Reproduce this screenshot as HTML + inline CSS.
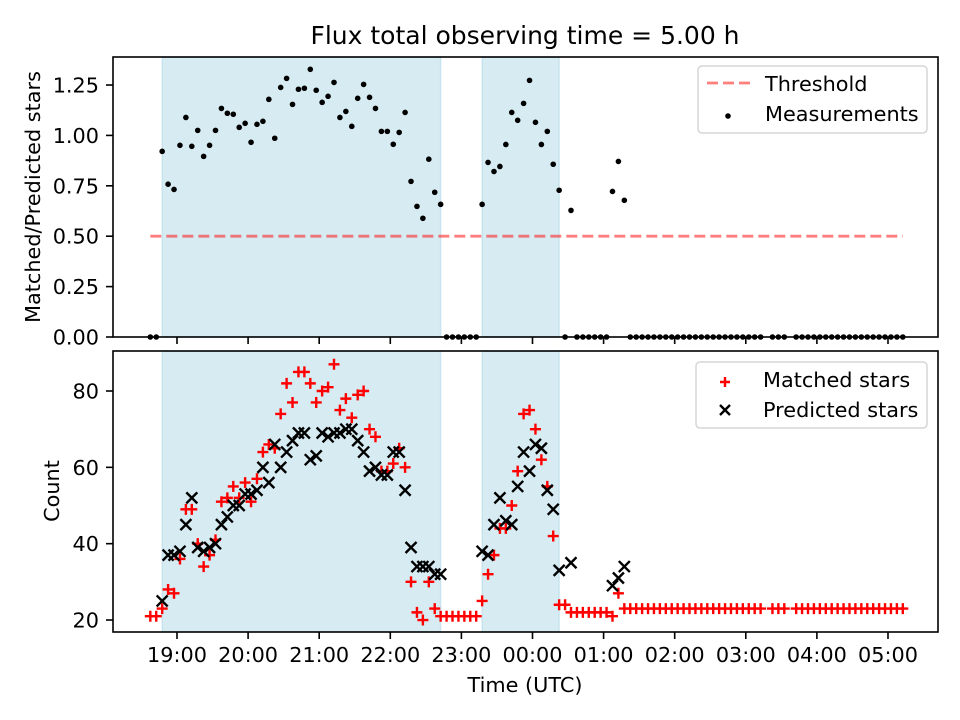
<!DOCTYPE html>
<html><head><meta charset="utf-8"><style>
html,body{margin:0;padding:0;background:#fff;}
svg{display:block;font-family:"DejaVu Sans","Liberation Sans",sans-serif;}
</style></head><body>
<svg id="fig" width="960" height="720" viewBox="0 0 960 720"></svg>
<script>
// ---- data ----
const startMinutes = -22.5; // minutes relative to 19:00 of first sample (18:37:30)
const intervalMinutes = 5;
const ratio = [0,0,
0.921,0.758,0.732,0.951,1.089,0.946,1.025,0.896,0.951,1.025,1.134,1.110,1.105,1.040,1.060,0.966,1.055,1.070,1.179,0.986,1.238,1.283,1.154,1.229,1.234,1.328,1.224,1.164,1.194,1.263,1.089,1.119,1.045,1.184,1.253,1.189,1.134,1.020,1.020,0.956,1.015,1.114,0.772,0.648,0.589,0.882,0.718,0.658,
0,0,0,0,0,0,
0.658,0.866,0.821,0.846,0.955,1.114,1.075,1.159,1.273,1.065,0.955,1.020,0.857,0.728,
0,0.628,0,0,0,0,0,0,0.722,0.871,0.678,
0,0,0,0,0,0,0,0,0,0,0,0,0,0,0,0,0,0,0,0,0,0,0,null,0,0,0,null,0,0,0,0,0,0,0,0,0,0,0,0,0,0,0,0,0,0,0];
const matched = [21,21,
23,28,27,36,49,49,40,34,37,41,51,52,55,52,56,51,57,64,66,65,74,82,77,85,85,82,77,80,81,87,75,78,73,79,80,70,68,59,59,61,65,60,30,22,20,30,23,21,
21,21,21,21,21,21,
25,32,37,44,44,50,59,74,75,70,62,55,42,24,
24,22,22,22,22,22,22,22,21,27,23,
23,23,23,23,23,23,23,23,23,23,23,23,23,23,23,23,23,23,23,23,23,23,23,null,23,23,23,null,23,23,23,23,23,23,23,23,23,23,23,23,23,23,23,23,23,23,23];
const predicted = [null,null,
25,37,37,38,45,52,39,38,39,40,45,47,50,50,53,53,54,60,56,66,60,64,67,69,69,62,63,69,68,69,69,70,70,67,64,59,60,58,58,64,64,54,39,34,34,34,32,32,
null,null,null,null,null,null,
38,37,45,52,46,45,55,64,59,66,65,54,49,33,
null,35,null,null,null,null,null,null,29,31,34];
const shadedStart = [-12.5, 257.5];
const shadedEnd = [222.5, 322.5];
const thresholdValue = 0.5;
const xTickMinutes = [0,60,120,180,240,300,360,420,480,540,600];
const xTickLabels = ["19:00","20:00","21:00","22:00","23:00","00:00","01:00","02:00","03:00","04:00","05:00"];
const topTicks = [0,0.25,0.5,0.75,1.0,1.25];
const topTickLabels = ["0.00","0.25","0.50","0.75","1.00","1.25"];
const botTicks = [20,40,60,80];
const botTickLabels = ["20","40","60","80"];

// ---- layout ----
const L=113,R=938, T1=57,B1=337, T2=351,B2=632;
const xMin=-54, xMax=642.2;
const yTopMin=0, yTopMax=1.389;
const yBotMin=16.86, yBotMax=90.48;
const X = m => L + (m - xMin)/(xMax - xMin)*(R-L);
const Y1 = v => B1 - (v - yTopMin)/(yTopMax - yTopMin)*(B1-T1);
const Y2 = v => B2 - (v - yBotMin)/(yBotMax - yBotMin)*(B2-T2);
const times = ratio.map((_,i)=> startMinutes + i*intervalMinutes);

const svg=document.getElementById('fig');
const NS='http://www.w3.org/2000/svg';
function mk(tag, attrs, parent){const e=document.createElementNS(NS,tag);for(const k in attrs)e.setAttribute(k,attrs[k]);(parent||svg).appendChild(e);return e;}

function panel(name,T,B){
  const g=mk('g',{});
  
  
  for(let i=0;i<shadedStart.length;i++){
    const r=mk('rect',{x:X(shadedStart[i]),y:T,width:X(shadedEnd[i])-X(shadedStart[i]),height:B-T,fill:'rgba(173,216,230,0.5)',stroke:'rgba(173,216,230,0.5)','stroke-width':1.5},g);
    
    
  }
  return g;
}
function frame(name,T,B){
  const f=mk('rect',{x:L,y:T,width:R-L,height:B-T,fill:'none',stroke:'#000','stroke-width':1.6});
  
  
}
function xticks(B,labels){
  xTickMinutes.forEach((m,i)=>{
    const t=mk('line',{x1:X(m),x2:X(m),y1:B,y2:B+7,stroke:'#000','stroke-width':1.6});
    
    
    if(labels){
      const tx=mk('text',{x:X(m),y:B+30,'text-anchor':'middle','font-size':'20.8px',fill:'#000'});
      tx.textContent=xTickLabels[i];
      
      
    }
  });
}
function yticks(vals,labs,Y){
  vals.forEach((v,i)=>{
    const t=mk('line',{x1:L-7,x2:L,y1:Y(v),y2:Y(v),stroke:'#000','stroke-width':1.6});
    
    
    const tx=mk('text',{x:L-14,y:Y(v)+7.5,'text-anchor':'end','font-size':'20.8px',fill:'#000'});
    tx.textContent=labs[i];
    
    
  });
}

// top panel
const gTop=panel('ratio-panel',T1,B1);
const thr=mk('line',{x1:X(times[0]),x2:X(times[times.length-1]),y1:Y1(thresholdValue),y2:Y1(thresholdValue),stroke:'rgba(255,0,0,0.5)','stroke-width':2.8,'stroke-dasharray':'11,5'},gTop);


ratio.forEach((v,i)=>{
  if(v===null) return;
  const c=mk('circle',{cx:X(times[i]),cy:Y1(v),r:2.8,fill:'#000'},gTop);
  
  
});
frame('ratio-axes-frame',T1,B1);
xticks(B1,false);
yticks(topTicks,topTickLabels,Y1);

// bottom panel
const gBot=panel('count-panel',T2,B2);
matched.forEach((v,i)=>{
  if(v===null) return;
  const x=X(times[i]), y=Y2(v), s=5.5;
  const p=mk('path',{d:`M${x-s},${y}H${x+s}M${x},${y-s}V${y+s}`,stroke:'#ff0000','stroke-width':2.4,fill:'none'},gBot);
  
  
});
predicted.forEach((v,i)=>{
  if(v===null||v===undefined) return;
  const x=X(times[i]), y=Y2(v), s=5.5;
  const p=mk('path',{d:`M${x-s},${y-s}L${x+s},${y+s}M${x-s},${y+s}L${x+s},${y-s}`,stroke:'#000','stroke-width':2.4,fill:'none'},gBot);
  
  
});
frame('count-axes-frame',T2,B2);
xticks(B2,true);
yticks(botTicks,botTickLabels,Y2);
</script>
<svg width="960" height="720" style="position:absolute;left:0;top:0;pointer-events:none;font-family:'DejaVu Sans','Liberation Sans',sans-serif;">
  <text x="525" y="44" text-anchor="middle" font-size="25px">Flux total observing time = 5.00 h</text>
  <text transform="translate(40,197) rotate(-90)" text-anchor="middle" font-size="20.8px">Matched/Predicted stars</text>
  <text transform="translate(59,491) rotate(-90)" text-anchor="middle" font-size="20.8px">Count</text>
  <text x="525" y="692" text-anchor="middle" font-size="20.8px">Time (UTC)</text>
  <g>
    <rect x="698" y="66" width="229" height="67" rx="4" fill="rgba(255,255,255,0.8)" stroke="#d6d6d6" stroke-width="1.5"/>
    <line x1="707" x2="750" y1="83" y2="83" stroke="rgba(255,0,0,0.5)" stroke-width="2.8" stroke-dasharray="11,5"/>
    <text x="765" y="91" font-size="20.8px">Threshold</text>
    <circle cx="728" cy="116" r="2.8" fill="#000"/>
    <text x="765" y="121" font-size="20.8px">Measurements</text>
  </g>
  <g>
    <rect x="696" y="362" width="231" height="66" rx="4" fill="rgba(255,255,255,0.8)" stroke="#d6d6d6" stroke-width="1.5"/>
    <path d="M720,382H730M725,377V387" stroke="#ff0000" stroke-width="2.4"/>
    <text x="763" y="387" font-size="20.8px">Matched stars</text>
    <path d="M720,405L730,415M720,415L730,405" stroke="#000" stroke-width="2.4"/>
    <text x="763" y="417" font-size="20.8px">Predicted stars</text>
  </g>
</svg>
</body></html>
